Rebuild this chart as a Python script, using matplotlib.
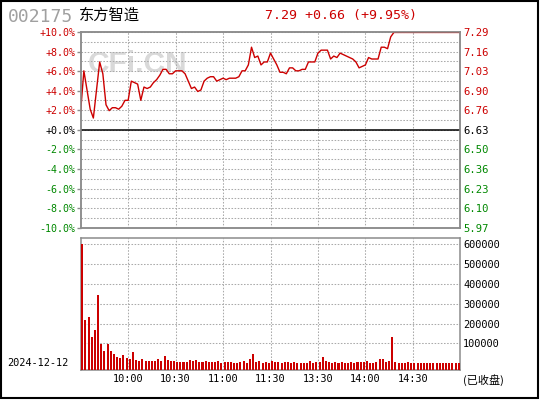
import numpy as np
import matplotlib
matplotlib.use("Agg")
import matplotlib.pyplot as plt
from matplotlib.patches import Rectangle

# stock info
code = "002175"
name = "东方智造"
trade_date = "2024-12-12"
prev_close = 6.63
last_price = 7.29
change = 0.66
change_pct = 9.95

# price every 2 minutes over 240 trading minutes (9:30-11:30, 13:00-15:00)
price = [6.76, 7.03, 6.90, 6.77, 6.71, 6.90, 7.09, 7.01, 6.80, 6.76,
         6.78, 6.78, 6.77, 6.79, 6.83, 6.83, 6.96, 6.95, 6.94, 6.83,
         6.92, 6.91, 6.92, 6.95, 6.97, 7.00, 7.04, 7.04, 7.01, 7.01,
         7.03, 7.03, 7.03, 7.01, 6.96, 6.91, 6.92, 6.89, 6.90, 6.96,
         6.98, 6.99, 6.99, 6.96, 6.97, 6.98, 6.97, 6.98, 6.98, 6.98,
         6.99, 7.03, 7.03, 7.07, 7.19, 7.12, 7.13, 7.07, 7.09, 7.09,
         7.15, 7.11, 7.07, 7.02, 7.02, 7.01, 7.05, 7.05, 7.03, 7.03,
         7.04, 7.04, 7.09, 7.09, 7.09, 7.15, 7.17, 7.17, 7.17, 7.11,
         7.13, 7.12, 7.15, 7.14, 7.13, 7.12, 7.11, 7.09, 7.05, 7.06,
         7.07, 7.12, 7.11, 7.11, 7.11, 7.19, 7.19, 7.18, 7.26, 7.29,
         7.29, 7.29, 7.29, 7.29, 7.29, 7.29, 7.29, 7.29, 7.29, 7.29,
         7.29, 7.29, 7.29, 7.29, 7.29, 7.29, 7.29, 7.29, 7.29, 7.29,
         7.29]

# volume per 2-minute bar
volume = [600000, 218000, 233000, 132000, 167000, 342000, 98000, 61000, 98000, 61000,
          48000, 31000, 26000, 41000, 26000, 21000, 56000, 16000, 11000, 21000,
          11000, 11000, 11000, 11000, 21000, 11000, 36000, 16000, 11000, 11000,
          6000, 6000, 6000, 6000, 16000, 11000, 16000, 6000, 6000, 11000,
          6000, 6000, 6000, 11000, 1000, 6000, 6000, 6000, 1000, 1000,
          6000, 11000, 1000, 21000, 46000, 6000, 11000, 1000, 6000, 1000,
          11000, 6000, 6000, 3000, 6000, 6000, 3000, 6000, 3000, 3000,
          3000, 3000, 11000, 3000, 6000, 6000, 31000, 11000, 6000, 3000,
          6000, 3000, 6000, 3000, 3000, 6000, 3000, 6000, 6000, 6000,
          11000, 3000, 3000, 6000, 21000, 21000, 6000, 11000, 132000, 6000,
          3000, 3000, 3000, 6000, 3000, 3000, 3000, 3000, 3000, 3000,
          3000, 3000, 3000, 3000, 3000, 3000, 3000, 3000, 3000, 3000]

time_ticks = [30, 60, 90, 120, 150, 180, 210]
time_labels = ["10:00", "10:30", "11:00", "11:30", "13:30", "14:00", "14:30"]
vol_ticks = [100000, 200000, 300000, 400000, 500000, 600000]
pct_major = [-10, -8, -6, -4, -2, 0, 2, 4, 6, 8, 10]
pct_minor = [-9, -7, -5, -3, -1, 1, 3, 5, 7, 9]

RED = "#cc0000"
GREEN = "#008800"
GRID = "#aaaaaa"
FRAME = "#8c8c8c"
MONO = "DejaVu Sans Mono"
CJK = ["Noto Sans CJK SC", "DejaVu Sans"]

fig = plt.figure(figsize=(5.4, 4.0), dpi=100)
W, H = 540.0, 400.0

def box(x0, y0, x1, y1):
    return [x0 / W, 1 - y1 / H, (x1 - x0) / W, (y1 - y0) / H]

ax = fig.add_axes(box(80.7, 32, 460.3, 227.7))
axv = fig.add_axes(box(80.7, 238.3, 460.3, 369.5))

# ---- price panel
t_price = np.arange(len(price)) * 2
ax.plot(t_price, price, color=RED, lw=1.0, zorder=4)
ax.axhline(prev_close, color="black", lw=1.1, zorder=3)
ax.set_xlim(0, 240)
ax.set_ylim(prev_close * 0.9, prev_close * 1.1)

lvl_major = [prev_close * (1 + p / 100) for p in pct_major]
lvl_minor = [prev_close * (1 + p / 100) for p in pct_minor]
ax.set_yticks(lvl_major)
ax.set_yticks(lvl_minor, minor=True)
pct_text = []
for p in pct_major:
    if p > 0:
        pct_text.append("+%.1f%%" % p)
    elif p == 0:
        pct_text.append("+0.0%")
    else:
        pct_text.append("-%.1f%%" % abs(p))
ax.set_yticklabels(pct_text, fontfamily=MONO, fontsize=7.2)
ax.tick_params(axis="y", which="major", length=3, width=1, color=FRAME, pad=1)
ax.tick_params(axis="y", which="minor", length=0)
ax.set_xticks(time_ticks)
ax.tick_params(axis="x", length=0, labelbottom=False)
ax.grid(True, which="both", color=GRID, lw=0.75, ls=(0, (1.5, 1.5)))

def level_colour(p):
    return RED if p > 0 else ("black" if p == 0 else GREEN)

for lab, p in zip(ax.get_yticklabels(), pct_major):
    lab.set_color(level_colour(p))

ax2 = ax.twinx()
ax2.set_ylim(ax.get_ylim())
ax2.set_yticks(lvl_major)
ax2.set_yticklabels(["%.2f" % v for v in lvl_major], fontfamily=MONO, fontsize=7.6)
ax2.tick_params(axis="y", length=0, pad=2)
for lab, p in zip(ax2.get_yticklabels(), pct_major):
    lab.set_color(level_colour(p))

for a in (ax, ax2):
    for s in a.spines.values():
        s.set_color(FRAME)
        s.set_linewidth(1.1)

ax.text(0.151, 0.836, "CFi.CN", transform=ax.transAxes, ha="center", va="center",
        fontfamily="Liberation Sans", fontweight="bold", fontsize=21.5,
        color="#d9d9d9", zorder=1)

# ---- volume panel
vbase = -32000
t_vol = np.arange(len(volume)) * 2 + 1
axv.bar(t_vol, np.array(volume) - vbase, bottom=vbase, width=1.3,
        color=RED, lw=0, zorder=3)
axv.set_xlim(0, 240)
axv.set_ylim(vbase, 630000)
axv.set_xticks(time_ticks)
axv.set_xticklabels(time_labels, fontfamily=MONO, fontsize=7.4)
axv.tick_params(axis="x", length=0, pad=3)
axv.yaxis.tick_right()
axv.set_yticks(vol_ticks)
axv.set_yticklabels([str(v) for v in vol_ticks], fontfamily=MONO, fontsize=7.4)
axv.tick_params(axis="y", length=0, pad=2)
axv.grid(True, color=GRID, lw=0.75, ls=(0, (1.5, 1.5)))
for s in axv.spines.values():
    s.set_color(FRAME)
    s.set_linewidth(1.1)

# ---- header and footer texts
fig.text(8 / W, 1 - 16.5 / H, code, fontfamily=MONO, fontsize=13, color="#a0a0a0",
         va="center", ha="left")
fig.text(79 / W, 1 - 15 / H, name, fontfamily=CJK, fontsize=11, color="black",
         va="center", ha="left")
fig.text(265 / W, 1 - 15 / H, "%.2f +%.2f (+%.2f%%)" % (last_price, change, change_pct),
         fontfamily=MONO, fontsize=9.5, color=RED, va="center", ha="left")
fig.text(7 / W, 1 - 362.5 / H, trade_date, fontfamily=MONO, fontsize=7.4,
         color="black", va="center", ha="left")
fig.text(463 / W, 1 - 380 / H, "(已收盘)", fontfamily=CJK, fontsize=8,
         color="black", va="center", ha="left")

fig.add_artist(Rectangle((1 / W, 2 / H), 537 / W, 397 / H, transform=fig.transFigure,
                         fill=False, lw=1.5, ec="black"))

fig.savefig("out.png", dpi=100)
